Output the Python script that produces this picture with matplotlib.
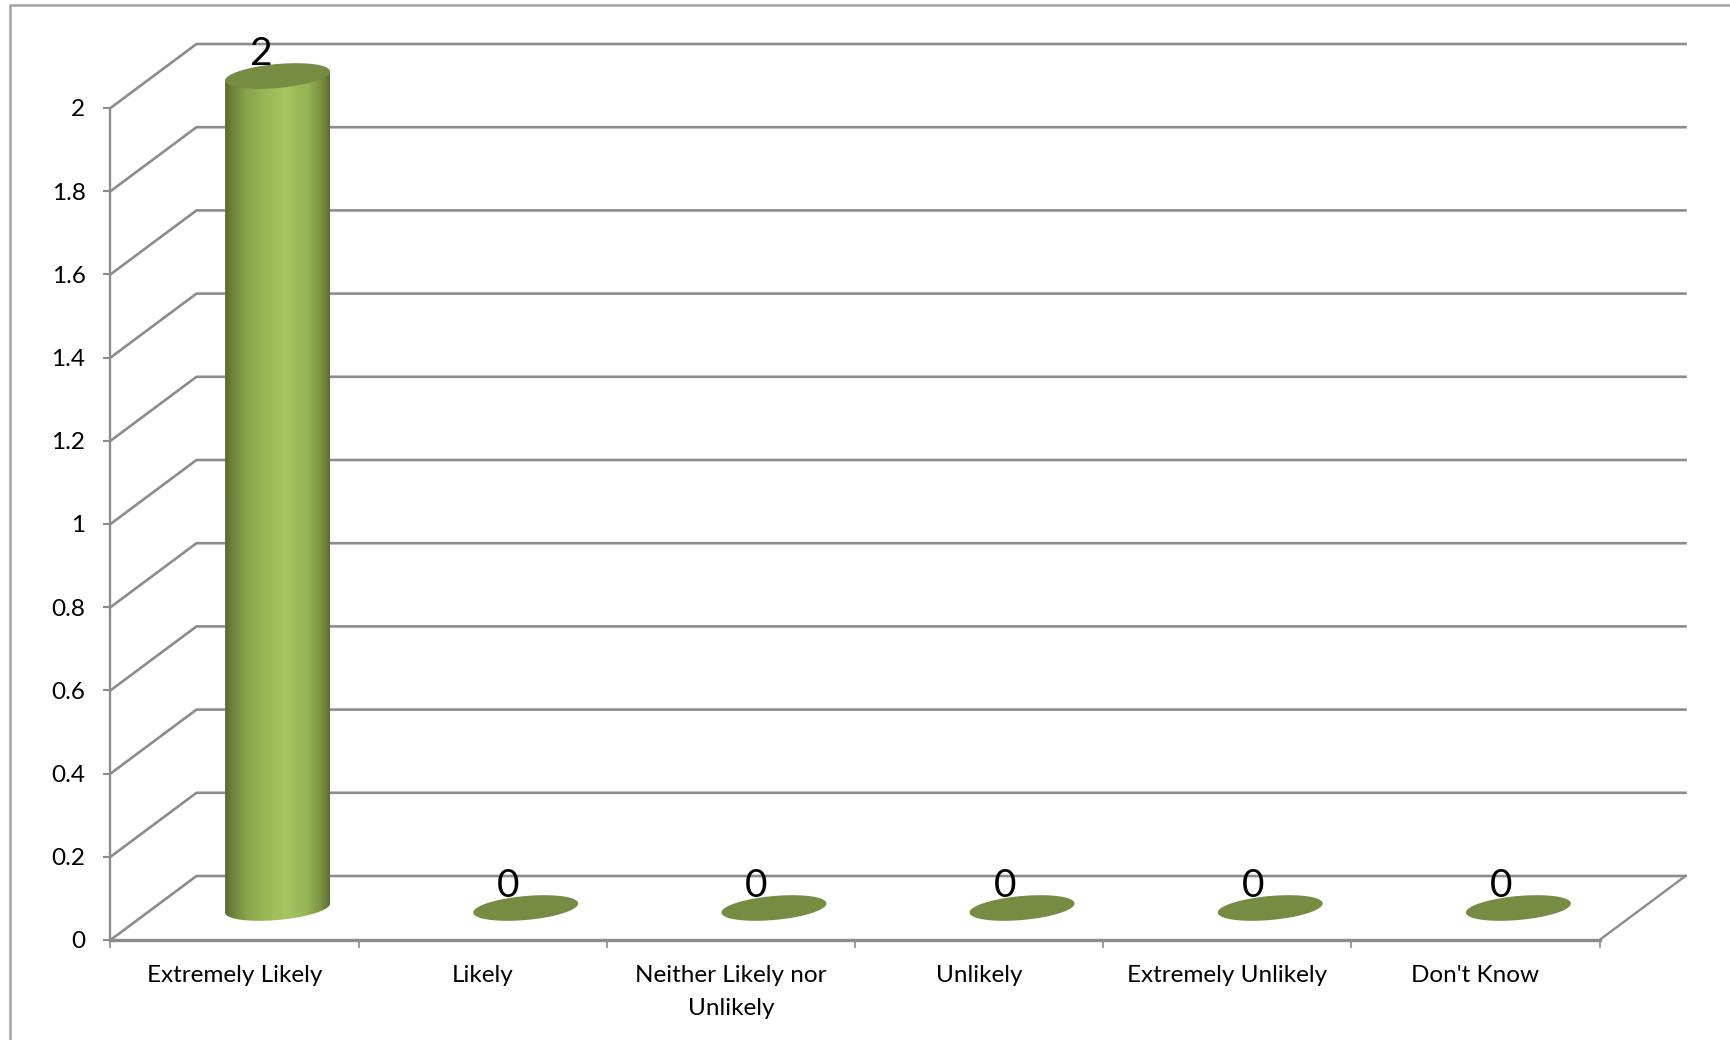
import numpy as np
import matplotlib
matplotlib.use("Agg")
import matplotlib.pyplot as plt
from matplotlib.colors import LinearSegmentedColormap
from matplotlib.lines import Line2D
from matplotlib.patches import Polygon

categories = ["Extremely Likely", "Likely", "Neither Likely nor\nUnlikely", "Unlikely", "Extremely Unlikely", "Don't Know"]
values = [2, 0, 0, 0, 0, 0]
yticks = [0, 0.2, 0.4, 0.6, 0.8, 1, 1.2, 1.4, 1.6, 1.8, 2]
yticklabels = ["0", "0.2", "0.4", "0.6", "0.8", "1", "1.2", "1.4", "1.6", "1.8", "2"]

W, H = 1730, 1040
GRID = "#8c8c8c"
FRAME = "#a3a3a3"
TOP = "#778c43"
YMAX = 2.25  # head room so the cylinder top is not clipped

plt.rcParams["font.family"] = ["Lato", "DejaVu Sans"]

fig = plt.figure(figsize=(W / 100, H / 100), dpi=100)
# front plane of the 3d box, pixels 110.5-1599.5 across, value 0 at 940 and value 2 at 108
ax = fig.add_axes([110.5 / W, 1 - 940 / H, (1599.5 - 110.5) / W, YMAX * 416 / H])
ax.set_xlim(0, 6)
ax.set_ylim(0, YMAX)

# depth of the box in data units
dx = 86 / 248.2
dy = 64 / 416

# walls and floor
for v in yticks:
    ax.plot([0, dx, 6 + dx], [v, v + dy, v + dy], color=GRID, lw=1.9, clip_on=False, zorder=1)
ax.plot([6, 6 + dx], [0, dy], color=GRID, lw=1.7, clip_on=False, zorder=1)

# cylinder shape
a = 0.2115
b = 12 / 416
s = 4.5 / 416
t = np.linspace(0, 2 * np.pi, 200)
cmap = LinearSegmentedColormap.from_list("cyl", [
    (0, "#5a6a2f"), (0.08, "#6f853b"), (0.2, "#88a44d"), (0.4, "#9aba59"), (0.58, "#a5c660"),
    (0.78, "#96b556"), (0.9, "#7f9746"), (1, "#5c6c30")])

for i, val in enumerate(values):
    cx = i + 0.5 + dx / 2
    base = dy / 2
    top = val + dy / 2
    ex = a * np.cos(t)
    ey = b * np.sin(t) + s * np.cos(t)
    if val > 0:
        # body with horizontal shading, clipped to the outline
        lower = t[(t >= np.pi) & (t <= 2 * np.pi)]
        bx = cx + a * np.cos(lower)
        by = base + b * np.sin(lower) + s * np.cos(lower)
        outline = np.vstack([np.column_stack([bx, by]), [cx + a, top + s], [cx - a, top - s]])
        body = Polygon(outline, closed=True, transform=ax.transData, fc="none", ec="none")
        ax.add_patch(body)
        im = ax.imshow(np.linspace(0, 1, 256).reshape(1, -1), cmap=cmap, aspect="auto",
                       extent=[cx - a, cx + a, base - 0.05, top + 0.05], zorder=2)
        im.set_clip_path(body)
    ax.fill(cx + ex, top + ey, color=TOP, lw=0, zorder=3, clip_on=False)
    ax.annotate(str(val), (cx, top), xytext=(-12.5, 15.5), textcoords="offset points",
                ha="center", va="center", fontsize=28, color="black", zorder=4,
                annotation_clip=False)

ax.set_xlim(0, 6)
ax.set_ylim(0, YMAX)

for name in ["top", "right"]:
    ax.spines[name].set_visible(False)
ax.spines["left"].set_color(GRID)
ax.spines["left"].set_linewidth(1.7)
ax.spines["left"].set_bounds(0, 2)
ax.spines["bottom"].set_color(GRID)
ax.spines["bottom"].set_linewidth(2.4)
ax.patch.set_alpha(0)

ax.set_yticks(yticks)
ax.set_yticklabels(yticklabels, fontsize=17.5, color="black")
ax.tick_params(axis="y", length=5, width=1.5, color=GRID, pad=13)

ax.set_xticks(range(7))
ax.set_xticklabels([])
ax.tick_params(axis="x", which="major", length=6, width=1.2, color=GRID)
ax.set_xticks(np.arange(6) + 0.5, minor=True)
ax.set_xticklabels(categories, minor=True, fontsize=17.5, linespacing=1.68)
ax.tick_params(axis="x", which="minor", length=0, pad=18)

# outer chart frame, cut off by the picture edges
fig.add_artist(Line2D([10 / W, 10 / W, 1], [0, 1 - 5 / H, 1 - 5 / H], color=FRAME, lw=1.8))

fig.savefig("out.png", dpi=100, facecolor="white")
